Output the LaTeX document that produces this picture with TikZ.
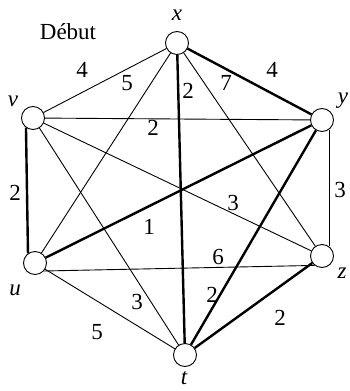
\documentclass[tikz,border=0pt]{standalone}
\usepackage{fontspec}
\setmainfont{Liberation Serif}
\usetikzlibrary{positioning}

\begin{document}
\begin{tikzpicture}[
  x=1pt, y=-1pt,
  vertex/.style={circle, draw, fill=white, line width=0.9pt, minimum size=23pt, inner sep=0pt},
  thinedge/.style={line width=0.9pt},
  thickedge/.style={line width=2.4pt},
  weight/.style={font=\fontsize{23}{26}\selectfont, inner sep=1pt},
  vname/.style={font=\fontsize{23}{26}\selectfont\itshape, inner sep=1pt}
]
\useasboundingbox (0,0) rectangle (350,391);

% sommets
\node[vertex] (vx) at (177,43) {};
\node[vertex] (vv) at (33,118) {};
\node[vertex] (vy) at (322,120) {};
\node[vertex] (vu) at (35,263) {};
\node[vertex] (vz) at (322,256) {};
\node[vertex] (vt) at (185,355) {};

\node[vname] (nx) at (177,15) {x};
\node[vname] (nv) at (13,101) {v};
\node[vname] (ny) at (343,101) {y};
\node[vname] (nu) at (15,290) {u};
\node[vname] (nz) at (342,273) {z};
\node[vname] (nt) at (184,378) {t};
\node[weight] (start) at (68,32) {Début};

% aretes
\draw[thinedge] (vx) -- (vv);
\draw[thickedge] (vx) -- (vy);
\draw[thickedge] (vx) -- (vt);
\draw[thinedge] (vx) -- (vz);
\draw[thinedge] (vx) -- (vu);
\draw[thinedge] (vv) -- (vy);
\draw[thickedge] (vv.234) -- (vu.126);
\draw[thinedge] (vv) -- (vz);
\draw[thinedge] (vv) -- (vt);
\draw[thinedge] (vy.-54) -- (vz.54);
\draw[thickedge] (vu) -- (vy);
\draw[thinedge] (vu.-42) -- (vz.232);
\draw[thinedge] (vu) -- (vt);
\draw[thickedge] (vt) -- (vy);
\draw[thickedge] (vt) -- (vz);

% poids
\node[weight] (w1) at (82,70) {4};
\node[weight] (w2) at (127,83) {5};
\node[weight] (w3) at (188,91) {2};
\node[weight] (w4) at (226,83) {7};
\node[weight] (w5) at (272,70) {4};
\node[weight] (w6) at (153,128) {2};
\node[weight] (w7) at (15,193) {2};
\node[weight] (w8) at (340,190) {3};
\node[weight] (w9) at (233,203) {3};
\node[weight] (w10) at (149,227) {1};
\node[weight] (w11) at (218,257) {6};
\node[weight] (w12) at (137,302) {3};
\node[weight] (w13) at (212,295) {2};
\node[weight] (w14) at (97,332) {5};
\node[weight] (w15) at (280,318) {2};

\end{tikzpicture}
\end{document}
